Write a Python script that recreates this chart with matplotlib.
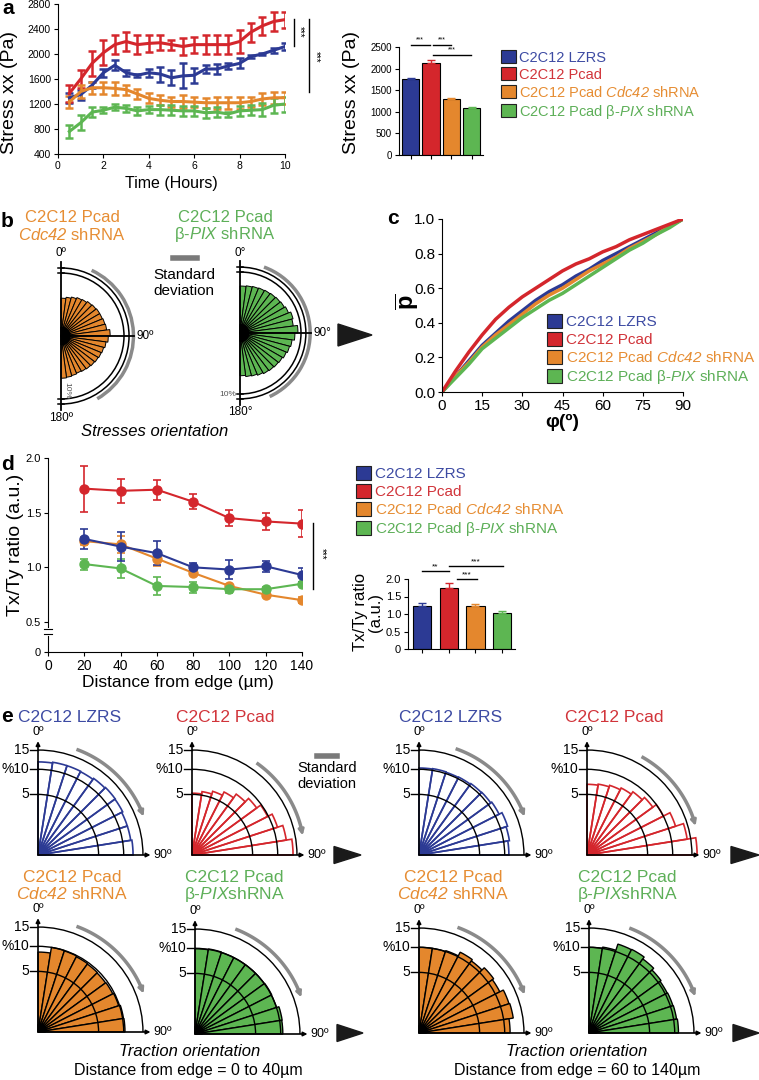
import matplotlib
matplotlib.use("Agg")
import matplotlib.pyplot as plt
import numpy as np
from matplotlib.lines import Line2D
from matplotlib.patches import Arc, Patch, Polygon, Wedge

plt.rcParams["font.family"] = ["Liberation Sans", "DejaVu Sans"]
plt.rcParams["mathtext.fontset"] = "custom"
plt.rcParams["mathtext.rm"] = "Liberation Sans"
plt.rcParams["mathtext.it"] = "Liberation Sans:italic"
# sf slot used for italic words that contain digits (mathtext keeps digits upright in "it")
plt.rcParams["mathtext.sf"] = "Liberation Sans:italic"
plt.rcParams["mathtext.bf"] = "Liberation Sans:bold"

W, H = 759, 1080

# ---- data -------------------------------------------------------------
GROUPS = ["C2C12 LZRS", "C2C12 Pcad",
          r"C2C12 Pcad $\mathsf{Cdc42}$ shRNA",
          r"C2C12 Pcad β-$\mathsf{PIX}$ shRNA"]
FILL = ["#2C3A94", "#D4262C", "#E4872D", "#5DB652"]
TEXT = ["#3D4BA3", "#D1343A", "#E68D33", "#5DAF58"]
GREY = "#8a8a8a"

# a: stress xx over time
TIME = [0.5, 1.0, 1.5, 2.0, 2.5, 3.0, 3.5, 4.0, 4.5, 5.0,
        5.5, 6.0, 6.5, 7.0, 7.5, 8.0, 8.5, 9.0, 9.5, 10.0]
STRESS_LZRS = [1300, 1350, 1500, 1700, 1820, 1700, 1660, 1700, 1680, 1620,
               1650, 1660, 1760, 1760, 1810, 1850, 1960, 2000, 2060, 2120]
STRESS_LZRS_ERR = [80, 80, 50, 60, 80, 50, 20, 60, 120, 120,
                   200, 120, 60, 80, 50, 80, 30, 20, 40, 50]
STRESS_PCAD = [1370, 1600, 1850, 2020, 2150, 2200, 2150, 2170, 2180, 2150,
               2120, 2150, 2150, 2150, 2150, 2200, 2350, 2450, 2520, 2550]
STRESS_PCAD_ERR = [130, 150, 200, 200, 150, 150, 150, 130, 120, 80,
                   130, 130, 150, 150, 150, 180, 150, 150, 150, 130]
STRESS_CDC42 = [1230, 1400, 1460, 1460, 1450, 1430, 1360, 1290, 1260, 1240,
                1240, 1230, 1220, 1220, 1220, 1220, 1240, 1280, 1300, 1300]
STRESS_CDC42_ERR = [100, 100, 100, 100, 100, 80, 80, 80, 80, 80,
                    100, 80, 80, 100, 100, 100, 80, 100, 100, 100]
STRESS_BPIX = [760, 900, 1070, 1100, 1150, 1130, 1090, 1110, 1110, 1100,
               1090, 1090, 1060, 1070, 1040, 1090, 1100, 1110, 1180, 1200]
STRESS_BPIX_ERR = [100, 120, 80, 50, 50, 50, 60, 60, 80, 80,
                   80, 80, 80, 80, 40, 80, 80, 100, 120, 120]
STRESS_MEAN = [1750, 2140, 1300, 1090]
STRESS_SEM = [40, 60, 12, 12]

# b: stress orientation roses (% per 7.5 deg bin, 0-180 deg)
ROSE_B_CDC42 = [6.0, 6.2, 6.4, 6.6, 6.7, 6.9, 7.0, 7.1, 7.1, 7.2, 7.3, 7.8,
                7.5, 7.2, 7.0, 6.9, 6.8, 6.7, 6.6, 6.5, 6.4, 6.5, 6.6, 6.7]
ROSE_B_BPIX = [7.7, 7.8, 7.9, 8.0, 8.1, 8.2, 8.3, 8.4, 8.6, 9.0, 8.8, 9.5,
               9.0, 8.6, 8.4, 8.2, 8.0, 7.9, 7.8, 7.7, 7.5, 7.3, 7.2, 7.0]

# c: cumulative orientation
PHI = [0, 5, 10, 15, 20, 25, 30, 35, 40, 45, 50, 55, 60, 65, 70, 75, 80, 85, 90]
P_LZRS = [0.0, 0.09, 0.18, 0.27, 0.34, 0.41, 0.47, 0.53, 0.58, 0.62,
          0.67, 0.71, 0.76, 0.80, 0.84, 0.88, 0.92, 0.96, 1.0]
P_PCAD = [0.0, 0.12, 0.23, 0.33, 0.42, 0.49, 0.55, 0.60, 0.65, 0.70,
          0.74, 0.77, 0.81, 0.84, 0.88, 0.91, 0.94, 0.97, 1.0]
P_CDC42 = [0.0, 0.09, 0.17, 0.26, 0.33, 0.39, 0.45, 0.51, 0.56, 0.60,
           0.65, 0.70, 0.74, 0.78, 0.83, 0.87, 0.91, 0.96, 1.0]
P_BPIX = [0.0, 0.08, 0.16, 0.25, 0.31, 0.37, 0.43, 0.48, 0.53, 0.57,
          0.62, 0.67, 0.72, 0.77, 0.82, 0.86, 0.91, 0.95, 1.0]

# d: Tx/Ty ratio vs distance
DIST = [20, 40, 60, 80, 100, 120, 140]
RATIO_LZRS = [1.26, 1.19, 1.13, 1.00, 0.98, 1.01, 0.93]
RATIO_LZRS_ERR = [0.09, 0.13, 0.11, 0.04, 0.09, 0.05, 0.06]
RATIO_PCAD = [1.72, 1.70, 1.71, 1.60, 1.45, 1.42, 1.40]
RATIO_PCAD_ERR = [0.21, 0.11, 0.09, 0.07, 0.07, 0.08, 0.12]
RATIO_CDC42 = [1.24, 1.21, 1.08, 0.95, 0.83, 0.75, 0.70]
RATIO_CDC42_ERR = [0.04, 0.08, 0.07, 0.02, 0.02, 0.02, 0.03]
RATIO_BPIX = [1.03, 0.99, 0.83, 0.82, 0.80, 0.80, 0.85]
RATIO_BPIX_ERR = [0.05, 0.09, 0.08, 0.05, 0.03, 0.02, 0.02]
RATIO_MEAN = [1.22, 1.74, 1.22, 1.03]
RATIO_SEM = [0.10, 0.15, 0.06, 0.06]

# e: traction orientation roses (% per 9 deg bin, 0-90 deg)
E_LZRS_NEAR = [11.8, 12.0, 12.0, 11.9, 12.2, 12.4, 12.3, 12.0, 12.0, 12.3]
E_PCAD_NEAR = [5.2, 5.6, 6.1, 6.8, 7.7, 8.7, 9.8, 11.0, 12.4, 13.9]
E_CDC42_NEAR = [8.7, 10.0, 9.9, 9.7, 9.6, 9.5, 9.6, 9.8, 10.2, 10.3]
E_BPIX_NEAR = [9.9, 10.1, 10.0, 10.0, 10.0, 10.0, 10.1, 10.0, 10.6, 10.5]
E_LZRS_FAR = [10.3, 10.4, 10.3, 10.4, 10.6, 10.7, 11.0, 11.8, 11.4, 11.0]
E_PCAD_FAR = [6.8, 7.0, 7.3, 7.7, 8.3, 9.0, 10.0, 11.8, 14.0, 16.5]
E_CDC42_FAR = [10.0, 10.0, 10.2, 11.2, 10.8, 11.6, 11.2, 12.2, 12.4, 11.3]
E_BPIX_FAR = [10.0, 10.3, 11.9, 12.0, 11.4, 10.8, 10.5, 10.6, 10.7, 10.9]
E_LEVELS = [5, 10, 15]
E_LEVEL_LABELS = ["5", "%10", "15"]

fig = plt.figure(figsize=(W / 100, H / 100), dpi=100)


def px_axes(x0, y0, x1, y1):
    return fig.add_axes([x0 / W, 1 - y1 / H, (x1 - x0) / W, (y1 - y0) / H])


def ftext(x, y, s, **kw):
    kw.setdefault("ha", "center")
    kw.setdefault("va", "center")
    fig.text(x / W, 1 - y / H, s, **kw)


def fline(xs, ys, **kw):
    fig.add_artist(Line2D([x / W for x in xs], [1 - y / H for y in ys], **kw))


def triangle(x0, x1, yc, hh):
    pts = [(x0 / W, 1 - (yc - hh) / H), (x1 / W, 1 - yc / H), (x0 / W, 1 - (yc + hh) / H)]
    fig.add_artist(Polygon(pts, closed=True, transform=fig.transFigure, color="#1a1a1a"))


def style(ax, size):
    for s in ("top", "right"):
        ax.spines[s].set_visible(False)
    for s in ("left", "bottom"):
        ax.spines[s].set_linewidth(0.8)
    ax.tick_params(labelsize=size, length=3, width=0.8, pad=2)


def legend(x, y, size):
    handles = [Patch(facecolor=c, edgecolor="#222222", lw=0.8) for c in FILL]
    fig.legend(handles, GROUPS, loc="upper left", bbox_to_anchor=(x / W, 1 - y / H),
               frameon=False, fontsize=size, handlelength=1.0, handleheight=1.0,
               handletextpad=0.25, labelspacing=0.2, borderpad=0, borderaxespad=0,
               labelcolor=TEXT)


def rose_axes(cx, cy, scale, x0, y0, x1, y1):
    ax = px_axes(x0, y0, x1, y1)
    ax.set_xlim((x0 - cx) / scale, (x1 - cx) / scale)
    ax.set_ylim((cy - y1) / scale, (cy - y0) / scale)
    ax.set_axis_off()
    return ax


def half_rose(ax, vals, color, sd, deg, scale_lbl):
    step = 180 / len(vals)
    for i, v in enumerate(vals):
        a0 = i * step
        ax.add_patch(Wedge((0, 0), v, 90 - a0 - step, 90 - a0,
                           facecolor=color, edgecolor="black", lw=0.7))
    ax.add_patch(Wedge((0, 0), 1.4, -90, 90, color="black"))
    for r in (10, 10.8):
        ax.add_patch(Arc((0, 0), 2 * r, 2 * r, theta1=-90, theta2=90, color="black", lw=1.1))
        ax.plot([-0.5, 0.5], [r, r], color="black", lw=1.1)
        ax.plot([-0.5, 0.5], [-r, -r], color="black", lw=1.1)
    ax.plot([0, 0], [-11.8, 11.8], color="black", lw=1.3)
    ax.plot([0, 11.6], [0, 0], color="black", lw=1.3)
    ax.add_patch(Arc((0, 0), 23.0, 23.0, theta1=90 - sd[1], theta2=90 - sd[0],
                     color=GREY, lw=2.5))
    ax.text(0, 12.2, "0" + deg, ha="center", va="bottom", fontsize=8.5)
    ax.text(12.0, 0, "90" + deg, ha="left", va="center", fontsize=8.5)
    ax.text(0, -12.0, "180" + deg, ha="center", va="top", fontsize=8.5)
    if scale_lbl == "rot":
        ax.text(0.9, -8.6, "10%", rotation=270, ha="center", va="center", fontsize=6, color="#555555")
    else:
        ax.text(-0.6, -10.0, "10%", ha="right", va="center", fontsize=6, color="#555555")


def quarter_rose(ax, vals, color, filled, sd):
    step = 90 / len(vals)
    for i, v in enumerate(vals):
        a0 = i * step
        r = np.sqrt(v)
        if filled:
            ax.add_patch(Wedge((0, 0), r, 90 - a0 - step, 90 - a0,
                               facecolor=color, edgecolor="black", lw=1.0, zorder=2))
        else:
            ax.add_patch(Wedge((0, 0), r, 90 - a0 - step, 90 - a0,
                               facecolor="none", edgecolor=color, lw=1.2, zorder=2))
    ax.add_patch(Wedge((0, 0), 0.28, 0, 90, color="black" if filled else color, zorder=4))
    for level, lbl in zip(E_LEVELS, E_LEVEL_LABELS):
        r = np.sqrt(level)
        ax.add_patch(Arc((0, 0), 2 * r, 2 * r, theta1=0, theta2=90, color="black", lw=1.0, zorder=3))
        ax.plot([-0.3, 0], [r, r], color="black", lw=1.0)
        ax.text(-0.33, r, lbl, ha="right", va="center", fontsize=10)
    arrow = dict(arrowstyle="-|>", color="black", lw=1.2, mutation_scale=6, shrinkA=0, shrinkB=0)
    ax.annotate("", xy=(0, 4.2), xytext=(0, 0), arrowprops=arrow, zorder=5)
    ax.annotate("", xy=(4.15, 0), xytext=(0, 0), arrowprops=arrow, zorder=5)
    ax.text(0, 4.3, "0º", ha="center", va="bottom", fontsize=9)
    ax.text(4.25, 0, "90º", ha="left", va="center", fontsize=9)
    rr = 4.15
    th = np.radians(np.linspace(sd[0], sd[1] - 4, 40))
    ax.plot(rr * np.sin(th), rr * np.cos(th), color=GREY, lw=2.5, solid_capstyle="butt")
    t0, t1 = np.radians(sd[1] - 5), np.radians(sd[1])
    ax.annotate("", xy=(rr * np.sin(t1), rr * np.cos(t1)), xytext=(rr * np.sin(t0), rr * np.cos(t0)),
                arrowprops=dict(arrowstyle="-|>", color=GREY, lw=2.0, mutation_scale=8,
                                shrinkA=0, shrinkB=0))


# ---- a: stress over time ----------------------------------------------
ax = px_axes(58, 4, 285, 154)
series = [(STRESS_LZRS, STRESS_LZRS_ERR), (STRESS_PCAD, STRESS_PCAD_ERR),
          (STRESS_CDC42, STRESS_CDC42_ERR), (STRESS_BPIX, STRESS_BPIX_ERR)]
for (vals, errs), c in zip(series, FILL):
    ax.errorbar(TIME, vals, yerr=errs, color=c, lw=2.2, elinewidth=1.8, capsize=3, capthick=1.8)
ax.set_xlim(0, 10)
ax.set_ylim(400, 2800)
ax.set_yticks(range(400, 2801, 400))
ax.set_xticks(range(0, 11, 2))
style(ax, 7.5)
ax.plot([10.4, 10.4], [2560, 2130], color="black", lw=1, clip_on=False)
ax.text(10.65, 2350, "***", rotation=270, ha="center", va="center", fontsize=7)
ax.plot([11.05, 11.05], [2560, 1400], color="black", lw=1, clip_on=False)
ax.text(11.35, 1950, "***", rotation=270, ha="center", va="center", fontsize=7)
ftext(171, 183, "Time (Hours)", fontsize=11.5)
ftext(10, 92, "Stress xx (Pa)", fontsize=14, rotation=90)
ftext(8, 9, "a", fontsize=15, fontweight="bold")

axb = px_axes(399, 47, 483, 155)
xb = np.arange(4)
axb.bar(xb, STRESS_MEAN, width=0.85, color=FILL, edgecolor="black", lw=0.8)
for xi, m, e, c in zip(xb, STRESS_MEAN, STRESS_SEM, FILL):
    axb.errorbar(xi, m, yerr=[[0], [e]], color=c, capsize=3, lw=1)
axb.set_xlim(-0.58, 3.55)
axb.set_ylim(0, 2500)
axb.set_yticks(range(0, 2501, 500))
axb.set_xticks(xb)
axb.set_xticklabels([])
style(axb, 7)
for xs, y, s in (([0, 0.92], 2546, "***"), ([1.1, 2.0], 2546, "***"), ([1.1, 2.95], 2315, "***")):
    axb.plot(xs, [y, y], color="black", lw=1, clip_on=False)
    axb.text(sum(xs) / 2, y + 40, s, ha="center", va="bottom", fontsize=5)
ftext(352, 93, "Stress xx (Pa)", fontsize=14, rotation=90)
legend(501, 50, 10.5)

# ---- b: stress orientation --------------------------------------------
ftext(7, 222, "b", fontsize=15, fontweight="bold")
ftext(72, 218, "C2C12 Pcad", fontsize=12, color=TEXT[2])
ftext(72, 235, r"$\mathsf{Cdc42}$ shRNA", fontsize=12, color=TEXT[2])
ftext(225, 218, "C2C12 Pcad", fontsize=12, color=TEXT[3])
ftext(225, 235, r"β-$\mathsf{PIX}$ shRNA", fontsize=12, color=TEXT[3])
axr = rose_axes(61, 336, 6.3, 45, 250, 160, 422)
half_rose(axr, ROSE_B_CDC42, FILL[2], (25, 150), "º", "rot")
axr = rose_axes(240, 333, 6.1, 205, 250, 335, 422)
half_rose(axr, ROSE_B_BPIX, FILL[3], (20, 155), "°", "flat")
fline([173, 197], [258, 258], color="#7a7a7a", lw=4)
ftext(184, 283, "Standard\ndeviation", fontsize=11, linespacing=1.1)
ftext(155, 432, "Stresses orientation", fontsize=12, style="italic")
triangle(338, 372, 335, 11)

# ---- c: cumulative -----------------------------------------------------
axc = px_axes(442, 219, 683, 392)
for vals, c in zip([P_LZRS, P_CDC42, P_BPIX, P_PCAD], [FILL[0], FILL[2], FILL[3], FILL[1]]):
    axc.plot(PHI, vals, color=c, lw=2.5)
axc.set_xlim(0, 90)
axc.set_ylim(0, 1)
axc.set_xticks(range(0, 91, 15))
axc.set_yticks(np.arange(0, 1.01, 0.2))
axc.set_yticklabels(["0.0", "0.2", "0.4", "0.6", "0.8", "1.0"])
style(axc, 11)
ftext(393, 218, "c", fontsize=15, fontweight="bold")
ftext(407, 302, r"$\overline{\mathbf{p}}$", fontsize=17, rotation=90)
ftext(562, 422, "φ(º)", fontsize=14, fontweight="bold")
legend(547, 314, 11)

# ---- d: Tx/Ty ratio ----------------------------------------------------
axd = px_axes(48, 458, 302, 627.5)
axd0 = px_axes(48, 636, 302, 652)
dseries = [(RATIO_CDC42, RATIO_CDC42_ERR, FILL[2]), (RATIO_BPIX, RATIO_BPIX_ERR, FILL[3]),
           (RATIO_LZRS, RATIO_LZRS_ERR, FILL[0]), (RATIO_PCAD, RATIO_PCAD_ERR, FILL[1])]
for vals, errs, c in dseries:
    axd.errorbar(DIST, vals, yerr=errs, color=c, lw=1.5, marker="o", ms=6.5,
                 capsize=3, capthick=1.2, elinewidth=1.2)
axd.set_xlim(0, 140)
axd.set_ylim(0.45, 2.0)
axd.set_yticks([0.5, 1.0, 1.5, 2.0])
axd.set_xticks([])
style(axd, 8)
axd.spines["bottom"].set_visible(False)
axd.plot([146, 146], [1.405, 0.80], color="black", lw=1, clip_on=False)
axd.text(151, 1.12, "***", rotation=270, ha="center", va="center", fontsize=7)
axd0.set_xlim(0, 140)
axd0.set_ylim(0, 0.15)
axd0.set_yticks([0])
axd0.set_xticks(range(0, 141, 20))
style(axd0, 8)
axd0.tick_params(axis="x", labelsize=10)
fline([44, 52], [629, 629], color="black", lw=0.8)
fline([44, 52], [634, 634], color="black", lw=0.8)
ftext(7, 465, "d", fontsize=15, fontweight="bold")
ftext(16, 545, "Tx/Ty ratio (a.u.)", fontsize=14, rotation=90)
ftext(178, 683, "Distance from edge (µm)", fontsize=12.5)
legend(356, 466, 11)

axdb = px_axes(408, 579, 515, 649)
axdb.bar(xb, RATIO_MEAN, width=0.68, color=FILL, edgecolor="black", lw=0.8)
for xi, m, e, c in zip(xb, RATIO_MEAN, RATIO_SEM, FILL):
    axdb.errorbar(xi, m, yerr=[[0], [e]], color=c, capsize=3, lw=1)
axdb.set_xlim(-0.52, 3.48)
axdb.set_ylim(0, 2)
axdb.set_yticks([0, 0.5, 1.0, 1.5, 2.0])
axdb.set_yticklabels(["0", "0.5", "1.0", "1.5", "2.0"])
axdb.set_xticks(xb)
axdb.set_xticklabels([])
style(axdb, 8)
for xs, y, s in (([0, 1.0], 2.23, "**"), ([1.0, 3.05], 2.37, "***"), ([1.3, 2.05], 2.0, "***")):
    axdb.plot(xs, [y, y], color="black", lw=1, clip_on=False)
    axdb.text(sum(xs) / 2, y + 0.03, s, ha="center", va="bottom", fontsize=6)
ftext(368, 612, "Tx/Ty ratio\n(a.u.)", fontsize=12, rotation=90, linespacing=1.0)

# ---- e: traction orientation -------------------------------------------
ftext(7, 717, "e", fontsize=15, fontweight="bold")
SC = 27.1
roses = [
    (38, 855, E_LZRS_NEAR, 0, False, (20, 70)),
    (192, 855, E_PCAD_NEAR, 1, False, (35, 80)),
    (38, 1032, E_CDC42_NEAR, 2, True, (20, 70)),
    (195, 1034, E_BPIX_NEAR, 3, True, (21, 71)),
    (419, 855, E_LZRS_FAR, 0, False, (19, 70)),
    (587, 855, E_PCAD_FAR, 1, False, (29, 75)),
    (419, 1033, E_CDC42_FAR, 2, True, (20, 70)),
    (589, 1033, E_BPIX_FAR, 3, True, (21, 71)),
]
for cx, cy, vals, gi, filled, sd in roses:
    axe = rose_axes(cx, cy, SC, cx - 35, cy - 135, cx + 150, cy + 8)
    quarter_rose(axe, vals, FILL[gi], filled, sd)

for x0 in (0, 381):
    ftext(70 + x0, 717, "C2C12 LZRS", fontsize=12.5, color=TEXT[0])
    ftext(225 + x0 + (8 if x0 else 0), 717, "C2C12 Pcad", fontsize=12.5, color=TEXT[1])
    ftext(72 + x0, 877, "C2C12 Pcad", fontsize=12.5, color=TEXT[2])
    ftext(72 + x0, 894, r"$\mathsf{Cdc42}$ shRNA", fontsize=12.5, color=TEXT[2])
    ftext(234 + x0 + (12 if x0 else 0), 877, "C2C12 Pcad", fontsize=12.5, color=TEXT[3])
    ftext(234 + x0 + (12 if x0 else 0), 894, r"β-$\mathsf{PIX}$shRNA", fontsize=12.5, color=TEXT[3])
fline([317, 337], [756, 756], color="#7a7a7a", lw=4)
ftext(327, 776, "Standard\ndeviation", fontsize=10.5, linespacing=1.1)
ftext(190, 1052, "Traction orientation", fontsize=12, style="italic")
ftext(188, 1070, "Distance from edge = 0 to 40µm", fontsize=11.5)
ftext(577, 1052, "Traction orientation", fontsize=12, style="italic")
ftext(577, 1070, "Distance from edge = 60 to 140µm", fontsize=11.5)
triangle(334, 361, 855, 8.5)
triangle(337, 363, 1033, 8.5)
triangle(731, 759, 855, 8.5)
triangle(733, 759, 1033, 8.5)

fig.savefig("out.png", dpi=100)
